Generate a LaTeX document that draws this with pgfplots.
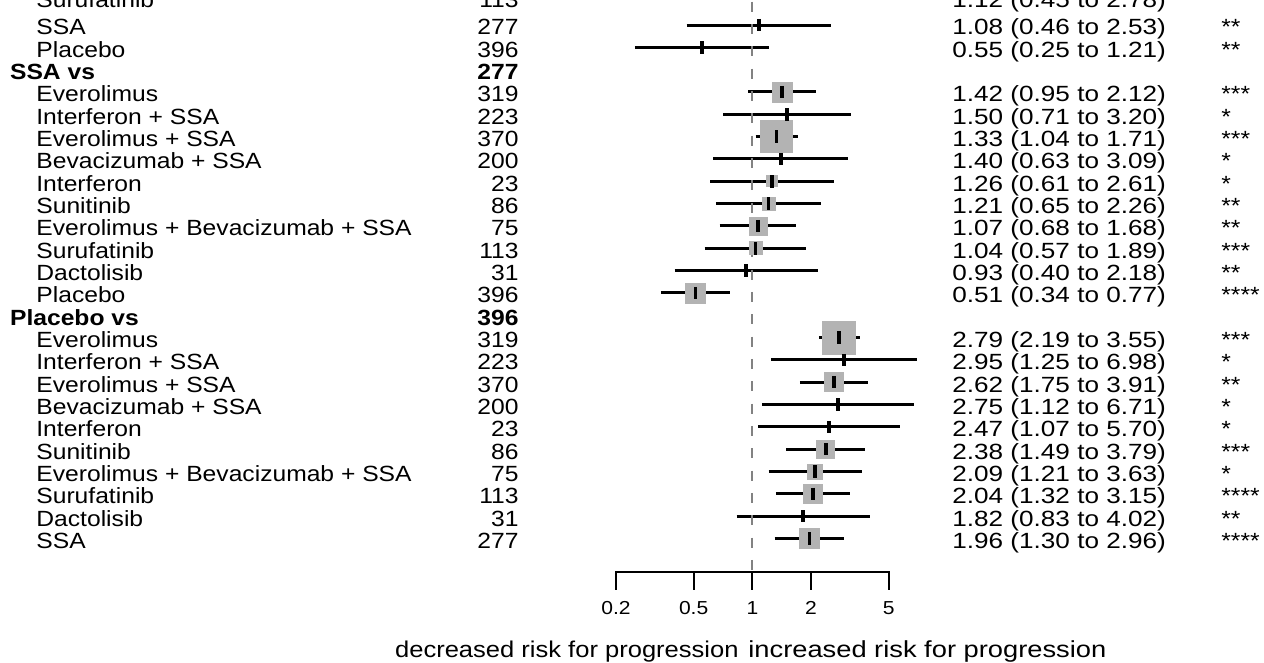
\documentclass[border=0pt]{standalone}
\usepackage{pgfplots}
\pgfplotsset{compat=1.18}
\usepackage{fontspec}
\setmainfont{Liberation Sans}[FakeStretch=1.12]
\definecolor{sqgray}{RGB}{179,179,179}
\definecolor{dashgray}{RGB}{130,130,130}

% row k -> pixel y of the line: 2.67 + 22.33 k ; 1 px = 0.5 pt
\newcommand{\rowtext}[5]{%
  \pgfmathsetmacro\yy{-(2.67+22.33*(#1)+10)*0.5}%
  \node[anchor=base west] at (18pt,\yy pt) {#2};
  \node[anchor=base east] at (259.5pt,\yy pt) {#3};
  \node[anchor=base west] at (476pt,\yy pt) {\scalebox{1.06}[1]{#4}};
  \node[anchor=base west] at (610.5pt,\yy pt) {#5};
}
\newcommand{\rowhead}[3]{%
  \pgfmathsetmacro\yy{-(2.67+22.33*(#1)+10)*0.5}%
  \node[anchor=base west] at (4.85pt,\yy pt) {\bfseries #2};
  \node[anchor=base east] at (259.5pt,\yy pt) {\bfseries #3};
}

\pgfplotstableread{
row   hr    s
4     1.42  20
6     1.33  32
8     1.26  11
9     1.21  13
10    1.07  18
11    1.04  13
13    0.51  20
15    2.79  33
17    2.62  19
20    2.38  18
21    2.09  15
22    2.04  19
24    1.96  20
}\squares

\pgfplotstableread{
row    hr
1      1.08
2      0.55
4      1.42
5      1.50
6      1.33
7      1.40
8      1.26
9      1.21
10     1.07
11     1.04
12     0.93
13     0.51
15     2.79
16     2.95
17     2.62
18     2.75
19     2.47
20     2.38
21     2.09
22     2.04
23     1.82
24     1.96
}\points

\begin{document}
\begin{tikzpicture}[every node/.style={inner sep=0pt, font=\fontsize{11pt}{12pt}\selectfont}]
\useasboundingbox (0,0) rectangle (632pt,-331.5pt);
\clip (0,0) rectangle (632pt,-331.5pt);

\begin{axis}[
  at={(308pt,-286pt)}, anchor=south west,
  scale only axis, width=136.35pt, height=286pt,
  xmode=log, xmin=0.2, xmax=5,
  ymin=-0.1196, ymax=25.496, y dir=reverse,
  axis lines=none, clip=false,
]
% weight squares
\addplot[scatter, only marks, mark=square*,
  scatter/use mapped color={draw=sqgray, fill=sqgray},
  visualization depends on={\thisrow{s} \as \ms},
  scatter/@pre marker code/.append style={/tikz/mark size=\ms/4, /tikz/line width=0pt}]
  table[x=hr, y=row] {\squares};

% confidence intervals
\pgfplotsset{ci/.style={black, line width=1.5pt, forget plot}}
\addplot[ci] coordinates {(0.45,-0.25) (2.78,-0.25)};
\addplot[ci] coordinates {(0.46,1) (2.53,1)};
\addplot[ci] coordinates {(0.25,2) (1.21,2)};
\addplot[ci] coordinates {(0.95,4) (2.12,4)};
\addplot[ci] coordinates {(0.71,5) (3.20,5)};
\addplot[ci] coordinates {(1.04,6) (1.71,6)};
\addplot[ci] coordinates {(0.63,7) (3.09,7)};
\addplot[ci] coordinates {(0.61,8) (2.61,8)};
\addplot[ci] coordinates {(0.65,9) (2.26,9)};
\addplot[ci] coordinates {(0.68,10) (1.68,10)};
\addplot[ci] coordinates {(0.57,11) (1.89,11)};
\addplot[ci] coordinates {(0.40,12) (2.18,12)};
\addplot[ci] coordinates {(0.34,13) (0.77,13)};
\addplot[ci] coordinates {(2.19,15) (3.55,15)};
\addplot[ci] coordinates {(1.25,16) (6.98,16)};
\addplot[ci] coordinates {(1.75,17) (3.91,17)};
\addplot[ci] coordinates {(1.12,18) (6.71,18)};
\addplot[ci] coordinates {(1.07,19) (5.70,19)};
\addplot[ci] coordinates {(1.49,20) (3.79,20)};
\addplot[ci] coordinates {(1.21,21) (3.63,21)};
\addplot[ci] coordinates {(1.32,22) (3.15,22)};
\addplot[ci] coordinates {(0.83,23) (4.02,23)};
\addplot[ci] coordinates {(1.30,24) (2.96,24)};

% reference line at 1
\draw[dashgray, line width=1.1pt, dash pattern=on 5pt off 6.165pt, dash phase=10.33pt]
  (axis cs:1,-0.1196) -- (axis cs:1,25.496);

% point estimates
\addplot[only marks, mark=|, mark size=3.1pt, mark options={line width=1.8pt, black}]
  table[x=hr, y=row] {\points};

% x axis
\draw[line width=1pt] (axis cs:0.2,26.30) -- (axis cs:0.2,25.496) -- (axis cs:5,25.496) -- (axis cs:5,26.30);
\pgfplotsinvokeforeach{0.5,1,2}{
  \draw[line width=1pt] (axis cs:#1,25.496) -- (axis cs:#1,26.30);
}
\pgfplotsinvokeforeach{0.2,0.5,1,2,5}{
  \node[anchor=center, font=\fontsize{9.4pt}{11pt}\selectfont] at (axis cs:#1,27.108) {#1};
}
\end{axis}

% text columns
\rowtext{-0.25}{Surufatinib}{113}{1.12 (0.45 to 2.78)}{**}
\rowtext{1}{SSA}{277}{1.08 (0.46 to 2.53)}{**}
\rowtext{2}{Placebo}{396}{0.55 (0.25 to 1.21)}{**}
\rowhead{3}{SSA vs}{277}
\rowtext{4}{Everolimus}{319}{1.42 (0.95 to 2.12)}{***}
\rowtext{5}{Interferon + SSA}{223}{1.50 (0.71 to 3.20)}{*}
\rowtext{6}{Everolimus + SSA}{370}{1.33 (1.04 to 1.71)}{***}
\rowtext{7}{Bevacizumab + SSA}{200}{1.40 (0.63 to 3.09)}{*}
\rowtext{8}{Interferon}{23}{1.26 (0.61 to 2.61)}{*}
\rowtext{9}{Sunitinib}{86}{1.21 (0.65 to 2.26)}{**}
\rowtext{10}{Everolimus + Bevacizumab + SSA}{75}{1.07 (0.68 to 1.68)}{**}
\rowtext{11}{Surufatinib}{113}{1.04 (0.57 to 1.89)}{***}
\rowtext{12}{Dactolisib}{31}{0.93 (0.40 to 2.18)}{**}
\rowtext{13}{Placebo}{396}{0.51 (0.34 to 0.77)}{****}
\rowhead{14}{Placebo vs}{396}
\rowtext{15}{Everolimus}{319}{2.79 (2.19 to 3.55)}{***}
\rowtext{16}{Interferon + SSA}{223}{2.95 (1.25 to 6.98)}{*}
\rowtext{17}{Everolimus + SSA}{370}{2.62 (1.75 to 3.91)}{**}
\rowtext{18}{Bevacizumab + SSA}{200}{2.75 (1.12 to 6.71)}{*}
\rowtext{19}{Interferon}{23}{2.47 (1.07 to 5.70)}{*}
\rowtext{20}{Sunitinib}{86}{2.38 (1.49 to 3.79)}{***}
\rowtext{21}{Everolimus + Bevacizumab + SSA}{75}{2.09 (1.21 to 3.63)}{*}
\rowtext{22}{Surufatinib}{113}{2.04 (1.32 to 3.15)}{****}
\rowtext{23}{Dactolisib}{31}{1.82 (0.83 to 4.02)}{**}
\rowtext{24}{SSA}{277}{1.96 (1.30 to 2.96)}{****}

\node[anchor=base east, font=\fontsize{11.4pt}{13pt}\selectfont] at (369.5pt,-328.5pt) {decreased risk for progression};
\node[anchor=base west, font=\fontsize{11.6pt}{13pt}\selectfont] at (374pt,-328.5pt) {\scalebox{1.05}[1]{increased risk for progression}};
\end{tikzpicture}
\end{document}
